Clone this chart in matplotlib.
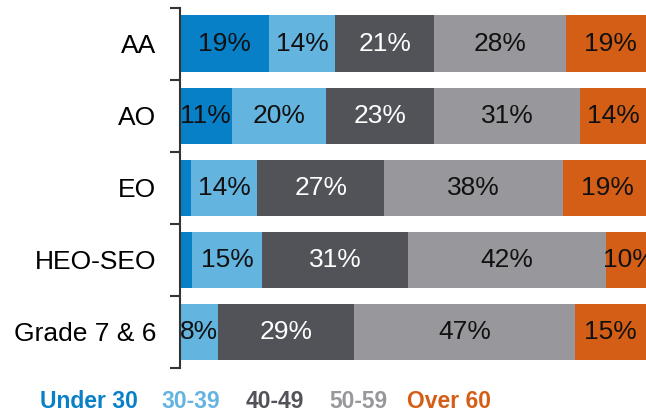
import matplotlib.pyplot as plt
import numpy as np

plt.rcParams['font.family'] = ['Liberation Sans', 'DejaVu Sans']

grades = ["AA", "AO", "EO", "HEO-SEO", "Grade 7 & 6"]
age_bands = ["Under 30", "30-39", "40-49", "50-59", "Over 60"]
under30 = [19, 11, 2.4, 2.5, 0]
age30_39 = [14, 20, 14, 15, 8]
age40_49 = [21, 23, 27, 31, 29]
age50_59 = [28, 31, 38, 42, 47]
over60 = [19, 14, 19, 10, 15]
labels = [
    ["19%", "14%", "21%", "28%", "19%"],
    ["11%", "20%", "23%", "31%", "14%"],
    ["", "14%", "27%", "38%", "19%"],
    ["", "15%", "31%", "42%", "10%"],
    ["", "8%", "29%", "47%", "15%"],
]

colors = ["#0880c8", "#64b4e0", "#525358", "#98989c", "#d45e16"]
text_colors = ["#111111", "#111111", "white", "#111111", "#111111"]

series = [under30, age30_39, age40_49, age50_59, over60]

fig = plt.figure(figsize=(6.46, 4.17), dpi=100)
ax = fig.add_axes([0.2786, 0.1175, 0.7214, 0.8635])

y = np.arange(len(grades))
left = np.zeros(len(grades))
for i, vals in enumerate(series):
    vals = np.array(vals)
    ax.barh(y, vals, left=left, height=0.79, color=colors[i], edgecolor='none')
    for j in range(len(grades)):
        if labels[j][i]:
            ax.text(left[j] + vals[j] / 2, y[j], labels[j][i], ha='center', va='center',
                    fontsize=19, color=text_colors[i])
    left = left + vals

ax.set_xlim(0, 99)
ax.set_ylim(len(grades) - 0.5, -0.5)
ax.set_yticks(y)
ax.set_yticklabels(grades, fontsize=19)
ax.tick_params(axis='y', which='major', length=0, pad=17)
ax.set_yticks(np.arange(-0.5, len(grades), 1), minor=True)
ax.tick_params(axis='y', which='minor', length=7, width=1.5, color='#333333')
ax.set_xticks([])
for s in ['top', 'right', 'bottom']:
    ax.spines[s].set_visible(False)
ax.spines['left'].set_color('#333333')
ax.spines['left'].set_linewidth(1.5)

# legend as coloured text
legend_x = [89, 191, 275, 358, 449]
for name, c, xp in zip(age_bands, colors, legend_x):
    fig.text(xp / 646, 1 - 402 / 417, name, ha='center', va='center', fontsize=16.5,
             fontweight='bold', color=c)

fig.savefig("out.png", dpi=100)
